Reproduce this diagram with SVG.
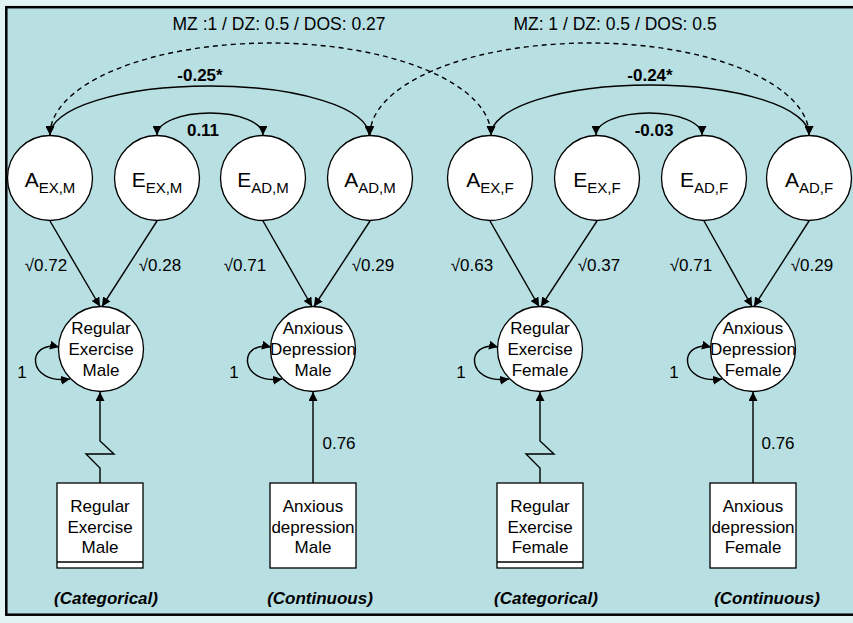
<svg xmlns="http://www.w3.org/2000/svg" width="853" height="623" viewBox="0 0 853 623">
<style>
text{font-family:"Liberation Sans",Arial,sans-serif;fill:#000}
.c{fill:#fff;stroke:#000;stroke-width:1.3}
.b{fill:#fff;stroke:#000;stroke-width:1.3}
.t{font-size:17px;text-anchor:middle}
.big{font-size:21px;text-anchor:middle}
.bold{font-size:17px;font-weight:bold;text-anchor:middle}
.cat{font-size:17px;font-weight:bold;font-style:italic;text-anchor:middle}
.l{fill:none;stroke:#000;stroke-width:1.4}
.d{fill:none;stroke:#000;stroke-width:1.4;stroke-dasharray:5,4}
.ar{marker-end:url(#ah)}
.bi{marker-start:url(#ah);marker-end:url(#ah)}
</style>
<defs>
<marker id="ah" viewBox="0 0 10 10" refX="10" refY="5" markerWidth="9" markerHeight="9" markerUnits="userSpaceOnUse" orient="auto-start-reverse">
<path d="M0,0 L10,5 L0,10 z" fill="#000"/>
</marker>
</defs>
<rect x="0" y="0" width="853" height="623" fill="#e2f3f3"/>
<rect x="6.3" y="7.2" width="860" height="607.5" fill="#b8dfe2" stroke="#000" stroke-width="2.5"/>

<text class="t" x="279" y="30" style="font-size:17.5px">MZ :1 / DZ: 0.5 / DOS: 0.27</text>
<text class="t" x="615" y="30" style="font-size:17.5px">MZ: 1 / DZ: 0.5 / DOS: 0.5</text>

<g id="A_EX_M"><circle class="c" cx="50" cy="178" r="42.5"/><text class="big" x="50" y="187">A<tspan font-size="15" dy="6">EX,M</tspan></text></g>
<g id="E_EX_M"><circle class="c" cx="157" cy="178" r="42.5"/><text class="big" x="157" y="187">E<tspan font-size="15" dy="6">EX,M</tspan></text></g>
<g id="E_AD_M"><circle class="c" cx="263" cy="178" r="42.5"/><text class="big" x="263" y="187">E<tspan font-size="15" dy="6">AD,M</tspan></text></g>
<g id="A_AD_M"><circle class="c" cx="370" cy="178" r="42.5"/><text class="big" x="370" y="187">A<tspan font-size="15" dy="6">AD,M</tspan></text></g>
<g id="A_EX_F"><circle class="c" cx="490" cy="178" r="42.5"/><text class="big" x="490" y="187">A<tspan font-size="15" dy="6">EX,F</tspan></text></g>
<g id="E_EX_F"><circle class="c" cx="597" cy="178" r="42.5"/><text class="big" x="597" y="187">E<tspan font-size="15" dy="6">EX,F</tspan></text></g>
<g id="E_AD_F"><circle class="c" cx="704" cy="178" r="42.5"/><text class="big" x="704" y="187">E<tspan font-size="15" dy="6">AD,F</tspan></text></g>
<g id="A_AD_F"><circle class="c" cx="809" cy="178" r="42.5"/><text class="big" x="809" y="187">A<tspan font-size="15" dy="6">AD,F</tspan></text></g>

<g id="RE_M"><circle class="c" cx="101" cy="349" r="42.5"/><text class="t" x="101" y="334">Regular</text><text class="t" x="101" y="355">Exercise</text><text class="t" x="101" y="376">Male</text></g>
<g id="AD_M"><circle class="c" cx="313" cy="349" r="42.5"/><text class="t" x="313" y="334">Anxious</text><text class="t" x="313" y="355">Depression</text><text class="t" x="313" y="376">Male</text></g>
<g id="RE_F"><circle class="c" cx="540" cy="349" r="42.5"/><text class="t" x="540" y="334">Regular</text><text class="t" x="540" y="355">Exercise</text><text class="t" x="540" y="376">Female</text></g>
<g id="AD_F"><circle class="c" cx="753" cy="349" r="42.5"/><text class="t" x="753" y="334">Anxious</text><text class="t" x="753" y="355">Depression</text><text class="t" x="753" y="376">Female</text></g>

<g id="box_RE_M"><rect class="b" x="57" y="483" width="86" height="85"/><line x1="57" y1="562" x2="143" y2="562" stroke="#000" stroke-width="1.3"/><text class="t" x="100" y="512">Regular</text><text class="t" x="100" y="533">Exercise</text><text class="t" x="100" y="553">Male</text></g>
<g id="box_AD_M"><rect class="b" x="270" y="483" width="86" height="85"/><text class="t" x="313" y="512">Anxious</text><text class="t" x="313" y="533">depression</text><text class="t" x="313" y="553">Male</text></g>
<g id="box_RE_F"><rect class="b" x="497" y="483" width="86" height="85"/><line x1="497" y1="562" x2="583" y2="562" stroke="#000" stroke-width="1.3"/><text class="t" x="540" y="512">Regular</text><text class="t" x="540" y="533">Exercise</text><text class="t" x="540" y="553">Female</text></g>
<g id="box_AD_F"><rect class="b" x="710" y="483" width="86" height="85"/><text class="t" x="753" y="512">Anxious</text><text class="t" x="753" y="533">depression</text><text class="t" x="753" y="553">Female</text></g>

<g id="connectors">
<path class="d bi" d="M50,135 A220.5,92 0 0 1 491,135"/>
<path class="d bi" d="M370,135 A219.5,92 0 0 1 809,135"/>
<path class="l bi" d="M50,135 A159.5,49 0 0 1 369,135"/>
<path class="l bi" d="M157,135 A53,22 0 0 1 263,135"/>
<path class="l bi" d="M491,135 A159,50 0 0 1 809,135"/>
<path class="l bi" d="M596,135 A53,22 0 0 1 702,135"/>

<path class="l ar" d="M50,221 L100,306.5"/>
<path class="l ar" d="M157,221 L102,306.5"/>
<path class="l ar" d="M263,221 L312,306.5"/>
<path class="l ar" d="M370,221 L314,306.5"/>
<path class="l ar" d="M490,221 L539,306.5"/>
<path class="l ar" d="M597,221 L541,306.5"/>
<path class="l ar" d="M704,221 L752,306.5"/>
<path class="l ar" d="M809,221 L754,306.5"/>

<path class="l bi" d="M59,347 C26,340 26,385 70,379"/>
<path class="l bi" d="M271,347 C238,340 238,385 282,379"/>
<path class="l bi" d="M498,347 C465,340 465,385 509,379"/>
<path class="l bi" d="M711,347 C678,340 678,385 722,379"/>

<path class="l ar" d="M100,483 V468 L86,454 H114 L100,441 V392"/>
<path class="l ar" d="M313,483 V392"/>
<path class="l ar" d="M540,483 V468 L526,454 H554 L540,441 V392"/>
<path class="l ar" d="M753,483 V392"/>
</g>

<text class="bold" x="200" y="81">-0.25*</text>
<text class="bold" x="203" y="136">0.11</text>
<text class="bold" x="650" y="81">-0.24*</text>
<text class="bold" x="654" y="136">-0.03</text>

<text class="t" x="46" y="271">√0.72</text>
<text class="t" x="160" y="271">√0.28</text>
<text class="t" x="245" y="271">√0.71</text>
<text class="t" x="373" y="271">√0.29</text>
<text class="t" x="472" y="271">√0.63</text>
<text class="t" x="599" y="271">√0.37</text>
<text class="t" x="691" y="271">√0.71</text>
<text class="t" x="812" y="271">√0.29</text>

<text class="t" x="22" y="378">1</text>
<text class="t" x="234" y="378">1</text>
<text class="t" x="461" y="378">1</text>
<text class="t" x="674" y="378">1</text>

<text class="t" x="339" y="449">0.76</text>
<text class="t" x="778" y="449">0.76</text>

<text class="cat" x="106" y="604">(Categorical)</text>
<text class="cat" x="320" y="604">(Continuous)</text>
<text class="cat" x="546" y="604">(Categorical)</text>
<text class="cat" x="767" y="604">(Continuous)</text>
</svg>
